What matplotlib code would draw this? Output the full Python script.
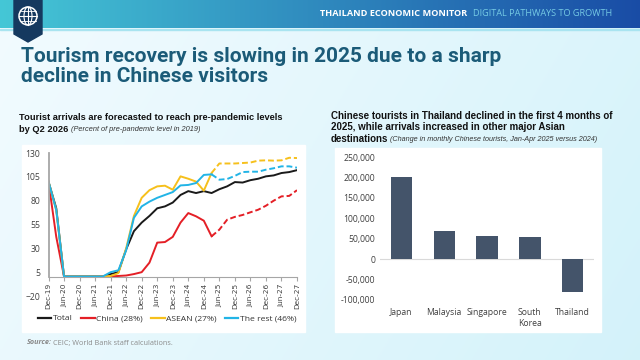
import numpy as np
import matplotlib
matplotlib.use("Agg")
import matplotlib.pyplot as plt
from matplotlib.patches import Rectangle, Polygon, Circle, Ellipse
from matplotlib.lines import Line2D

# ---------------- data ----------------
quarters = ["Dec-19", "Mar-20", "Jun-20", "Sep-20", "Dec-20", "Mar-21", "Jun-21", "Sep-21",
            "Dec-21", "Mar-22", "Jun-22", "Sep-22", "Dec-22", "Mar-23", "Jun-23", "Sep-23",
            "Dec-23", "Mar-24", "Jun-24", "Sep-24", "Dec-24", "Mar-25", "Jun-25", "Sep-25",
            "Dec-25", "Mar-26", "Jun-26", "Sep-26", "Dec-26", "Mar-27", "Jun-27", "Sep-27",
            "Dec-27"]
total = [100, 72, 0.5, 0.5, 0.5, 0.5, 0.5, 0.5, 3, 5, 29, 48, 57, 64, 72, 74,
         78, 86, 90, 88, 90, 88, 92, 95, 99.5, 99, 101.5, 103, 105.5, 106.5, 109, 110, 112]
china = [100, 42, 0.5, 0.5, 0.5, 0.5, 0.5, 0.5, 0.5, 1, 1.5, 3, 5, 15, 36, 36.6,
         42, 57, 67, 63.6, 59, 42.6, 49.6, 60, 63, 65, 67.8, 70.5, 74.7, 80, 84.5, 85, 91]
asean = [100, 70, 0.5, 0.5, 0.5, 0.5, 0.5, 0.5, 1, 4, 30, 64, 83, 91, 95, 95.7,
         91.5, 105.5, 103, 100, 90.5, 109, 119, 119, 119, 119.5, 120, 122, 122.3, 122, 122.3, 125, 124.7]
rest = [100, 70, 0.5, 0.5, 0.5, 0.5, 0.5, 0.5, 5, 7, 28, 62, 74, 79, 83, 86,
        89, 96, 96.5, 98.5, 107, 107.6, 102, 102.7, 106, 110, 110.4, 110.4, 112.5, 114, 116, 116, 114.6]
last_actual = "Mar-25"
series_names = ["Total", "China (28%)", "ASEAN (27%)", "The rest (46%)"]
series_colors = ["#1a1a1a", "#e41f26", "#f6c01c", "#22b4e6"]

countries = ["Japan", "Malaysia", "Singapore", "South\nKorea", "Thailand"]
change = [200000, 68000, 57000, 53000, -80000]

W, H = 640, 360
fig = plt.figure(figsize=(6.4, 3.6), dpi=100)

# ---------------- background ----------------
bg = fig.add_axes([0, 0, 1, 1], zorder=-10)
bg.set_xlim(0, W); bg.set_ylim(H, 0); bg.axis("off")
gx = np.linspace(0, 1, 256)
gy = np.linspace(0, 1, 128)
GX, GY = np.meshgrid(gx, gy)
c0 = np.array([0.95, 0.985, 1.0])
c1 = np.array([0.83, 0.95, 0.98])
t = np.clip(0.75 * GX + 0.25 * GY, 0, 1)[..., None]
img = c0 * (1 - t) + c1 * t
bg.imshow(img, extent=(0, W, H, 0), aspect="auto", zorder=0)
# header gradient
hx = np.linspace(0, 1, 256)[None, :, None]
h0 = np.array([0.27, 0.78, 0.84]); h1 = np.array([0.10, 0.30, 0.65])
himg = np.repeat(h0 * (1 - hx) + h1 * hx, 4, axis=0)
bg.imshow(himg, extent=(0, W, 28.5, 0), aspect="auto", zorder=1)
bg.add_patch(Rectangle((0, 28.5), W, 1.2, color="#a9e4f0", zorder=2))
# logo
bg.add_patch(Polygon([(14, 0), (42, 0), (42, 34), (28, 42), (14, 34)], closed=True,
                     color="#15395f", zorder=3))
bg.add_patch(Circle((28, 16), 9, fill=False, ec="white", lw=1.1, zorder=4))
bg.add_patch(Ellipse((28, 16), 8, 18, fill=False, ec="white", lw=0.8, zorder=4))
bg.plot([19, 37], [16, 16], color="white", lw=0.8, zorder=4)
bg.plot([20.5, 35.5], [11, 11], color="white", lw=0.6, zorder=4)
bg.plot([20.5, 35.5], [21, 21], color="white", lw=0.6, zorder=4)
bg.plot([28, 28], [7, 25], color="white", lw=0.8, zorder=4)

bg.text(467, 14, "THAILAND ECONOMIC MONITOR", color="white", fontsize=6.6, fontweight="bold",
        family="Open Sans", ha="right", va="center", zorder=5)
bg.text(473, 14, "DIGITAL PATHWAYS TO GROWTH", color="#7fd6ea", fontsize=6.6,
        family="Open Sans", ha="left", va="center", zorder=5, alpha=0.9)

bg.text(21, 57, "Tourism recovery is slowing in 2025 due to a sharp",
        color="#1b5b78", fontsize=15.0, fontweight="bold", family="Roboto",
        ha="left", va="center", zorder=5)
bg.text(21, 76, "decline in Chinese visitors",
        color="#1b5b78", fontsize=15.0, fontweight="bold", family="Roboto",
        ha="left", va="center", zorder=5)

# panels
bg.add_patch(Rectangle((22, 145), 283, 187, color="white", zorder=2))
bg.add_patch(Rectangle((335, 148), 266, 184, color="white", zorder=2))

# chart titles
bg.text(19, 117, "Tourist arrivals are forecasted to reach pre-pandemic levels",
        fontsize=6.65, fontweight="bold", family="Liberation Sans", color="#111111",
        ha="left", va="center", zorder=5)
bg.text(19, 129.5, "by Q2 2026", fontsize=6.65, fontweight="bold", family="Liberation Sans",
        color="#111111", ha="left", va="center", zorder=5)
bg.text(71, 129.5, "(Percent of pre-pandemic level in 2019)", fontsize=5.3, style="italic",
        family="Liberation Sans", color="#333333", ha="left", va="center", zorder=5)

bg.text(331, 116, "Chinese tourists in Thailand declined in the first 4 months of",
        fontsize=7.0, fontweight="bold", family="Liberation Sans", color="#111111",
        ha="left", va="center", zorder=5)
bg.text(331, 127.5, "2025, while arrivals increased in other major Asian",
        fontsize=7.0, fontweight="bold", family="Liberation Sans", color="#111111",
        ha="left", va="center", zorder=5)
bg.text(331, 139, "destinations", fontsize=7.0, fontweight="bold", family="Liberation Sans",
        color="#111111", ha="left", va="center", zorder=5)
bg.text(390, 139.5, "(Change in monthly Chinese tourists, Jan-Apr 2025 versus 2024)",
        fontsize=5.2, style="italic", family="Liberation Sans", color="#333333",
        ha="left", va="center", zorder=5)

bg.text(27, 343, "Source:", fontsize=5.2, fontweight="bold", style="italic",
        family="Open Sans", color="#8a8a8a", ha="left", va="center", zorder=5)
bg.text(53, 343, "CEIC; World Bank staff calculations.", fontsize=5.2,
        family="Open Sans", color="#8a8a8a", ha="left", va="center", zorder=5)

# ---------------- left chart ----------------
def fx(px):
    return px / W

def fy(py):
    return 1 - py / H

L, R, T, B = 48.5, 297, 153, 296
ax = fig.add_axes([fx(L), fy(B), fx(R) - fx(L), (B - T) / H])
ax.set_facecolor("none")
x = np.arange(len(quarters))
k = quarters.index(last_actual)
ax.plot(x, total, color=series_colors[0], lw=1.4)
for vals, col in zip([china, asean, rest], series_colors[1:]):
    ax.plot(x[:k + 1], vals[:k + 1], color=col, lw=1.4)
    ax.plot(x[k:], vals[k:], color=col, lw=1.4, dashes=(3, 1.5))
ax.set_xlim(0, len(quarters) - 1)
ax.set_ylim(-20, 130)
ax.set_yticks(np.arange(-20, 131, 25))
ax.set_xticks(x[::2])
ax.set_xticklabels(quarters[::2])
ax.tick_params(axis="y", length=0, labelsize=6.2, labelcolor="#404040", pad=6)
ax.tick_params(axis="x", length=3, width=0.8, color="#a6a6a6", pad=1.5,
               labelrotation=90, labelsize=5.3, labelcolor="#404040")
for lab in ax.get_yticklabels() + ax.get_xticklabels():
    lab.set_family("Open Sans")
ax.spines["top"].set_visible(False)
ax.spines["right"].set_visible(False)
ax.spines["bottom"].set_position(("data", 0))
ax.spines["bottom"].set_color("#a6a6a6")
ax.spines["left"].set_color("#a6a6a6")
ax.spines["left"].set_linewidth(1.3)
ax.spines["left"].set_bounds(0, 130)

handles = [Line2D([0], [0], color=c, lw=1.6) for c in series_colors]
leg = fig.legend(handles, series_names, loc="center", bbox_to_anchor=(fx(167), fy(318.5)),
                 ncol=4, frameon=False, handlelength=1.6, handletextpad=0.15,
                 columnspacing=1.0, prop={"family": "Open Sans", "size": 6.1})
for tx in leg.get_texts():
    tx.set_color("#333333")

# ---------------- right chart ----------------
L2, R2, T2, B2 = 380, 594, 157, 300
ax2 = fig.add_axes([fx(L2), fy(B2), fx(R2) - fx(L2), (B2 - T2) / H])
ax2.set_facecolor("none")
pos = np.arange(len(countries))
ax2.bar(pos, change, width=0.5, color="#44546a", zorder=3)
ax2.axhline(0, color="#d9d9d9", lw=0.8, zorder=2)
ax2.set_xlim(-0.5, len(countries) - 0.5)
ax2.set_ylim(-100000, 250000)
ax2.set_yticks(np.arange(-100000, 250001, 50000))
ax2.set_yticklabels([f"{v:,}" for v in range(-100000, 250001, 50000)])
ax2.set_xticks(pos)
ax2.set_xticklabels(countries)
ax2.tick_params(length=0, labelsize=6.2, labelcolor="#404040")
ax2.tick_params(axis="x", pad=6)
for lab in ax2.get_xticklabels() + ax2.get_yticklabels():
    lab.set_family("Open Sans")
for s in ax2.spines.values():
    s.set_visible(False)

fig.savefig("out.png", dpi=100)
